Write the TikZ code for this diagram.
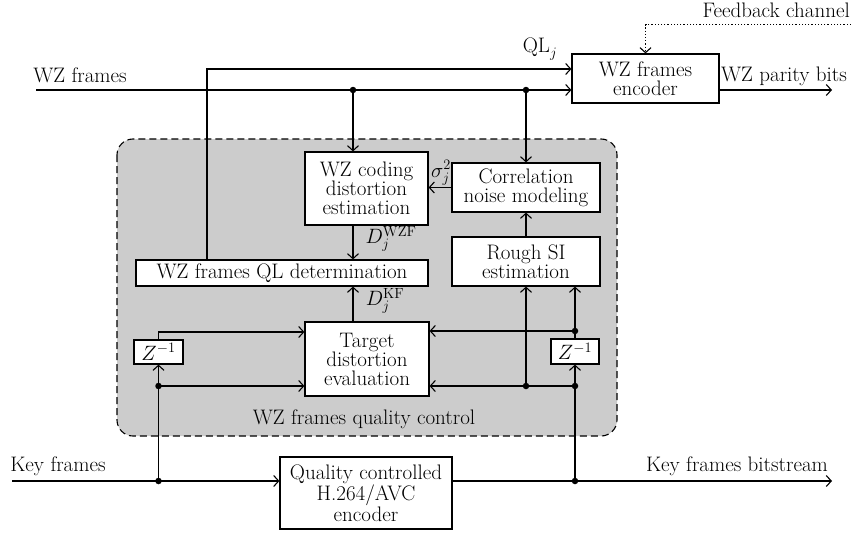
\documentclass[tikz,border=0pt]{standalone}
\usepackage{fontspec}
\usetikzlibrary{arrows.meta}
\begin{document}
\begin{tikzpicture}[x=1pt,y=-1pt,
  every node/.style={font=\fontsize{21}{19}\selectfont, inner sep=0pt},
  box/.style={draw, fill=white, line width=1.2pt, align=center},
  conn/.style={line width=1.2pt, -{Straight Barb[length=5pt,width=11pt,line width=1.1pt]}},
  dot/.style={circle, fill=black, minimum size=6.5pt, inner sep=0pt}]
\useasboundingbox (0,0) rectangle (851,535);
% region
\draw[fill=black!20, dash pattern=on 7pt off 4pt, line width=1.1pt, rounded corners=16pt] (117,139) rectangle (617,436);
\node (qclabel) at (364,419) {WZ frames quality control};
% boxes
\node[box, minimum width=147pt, minimum height=49pt] (enc) at (645.5,78.5) {WZ frames\\encoder};
\node[box, minimum width=123pt, minimum height=73pt] (wzc) at (366.5,188.5) {WZ coding\\distortion\\estimation};
\node[box, minimum width=148pt, minimum height=49pt] (cnm) at (526,187.5) {Correlation\\noise modeling};
\node[box, minimum width=148pt, minimum height=49pt] (rsi) at (526,261.5) {Rough SI\\estimation};
\node[box, minimum width=292pt, minimum height=26pt] (qld) at (282,273) {WZ frames QL determination};
\node[box, minimum width=124pt, minimum height=74pt] (tde) at (367,359) {Target\\distortion\\evaluation};
\node[box, minimum width=49pt, minimum height=24pt] (z1) at (158.5,352) {$Z^{-1}$};
\node[box, minimum width=48pt, minimum height=25pt] (z2) at (575,351.5) {$Z^{-1}$};
\node[box, minimum width=172pt, minimum height=72pt] (h264) at (366,493) {Quality controlled\\H.264/AVC\\encoder};
% text labels
\node (wzft) at (80,75) {WZ frames};
\node (wzpb) at (784,76) {WZ parity bits};
\node (kft) at (58,466) {Key frames};
\node (kfbt) at (737,466) {Key frames bitstream};
\node[anchor=east] (fbt) at (850,10) {Feedback channel};
\node (qlj) at (540,49) {$\mathrm{QL}_j$};
\node (sig) at (441,173) {$\sigma_j^2$};
\node (dwzf) at (391,239) {$D_j^{\mathrm{WZF}}$};
\node (dkf) at (385,301) {$D_j^{\mathrm{KF}}$};
% coordinates
\coordinate (wzin) at (36,90);
\coordinate (wzout) at (832,90);
\coordinate (qlx) at (207,69);
\coordinate (j1) at (353,90);
\coordinate (j2) at (526,90);
\coordinate (fbr) at (851,25);
\coordinate (kin) at (12,481);
\coordinate (kout) at (832,481);
\coordinate (j3) at (158.5,481);
\coordinate (j4) at (575,481);
\coordinate (j5) at (158.5,386);
\coordinate (j6) at (575,386);
\coordinate (j7) at (526,386);
\coordinate (j8) at (575,331);
\coordinate (r1) at (0,332);
% top connectors
\draw[conn] (wzin) -- (enc.west |- wzin);
\draw[conn] (qld.north -| qlx) -- (qlx) -- (enc.west |- qlx);
\draw[conn] (j1) -- (wzc.north -| j1);
\draw[conn] (j2) -- (cnm.north);
\draw[conn, dotted, line width=1pt] (fbr) -| (enc.north);
\draw[conn] (enc.east |- wzout) -- (wzout);
\draw[conn] (cnm.west) -- (wzc.east |- cnm.west);
\draw[conn] (rsi.north) -- (cnm.south);
\draw[conn] (wzc.south -| j1) -- (qld.north -| j1);
\draw[conn] (tde.north -| j1) -- (qld.south -| j1);
% key frames
\draw[conn] (kin) -- (h264.west |- kin);
\draw[conn] (h264.east |- kout) -- (kout);
\draw[conn] (j3) -- (z1.south);
\draw[conn] (j5) -- (tde.west |- j5);
\draw[conn] (z1.north) |- (tde.west |- r1);
\draw[conn] (j4) -- (z2.south);
\draw[conn] (j6) -- (tde.east |- j6);
\draw[conn] (j7) -- (rsi.south -| j7);
\draw[conn] (z2.north) -- (rsi.south -| z2);
\draw[conn] (j8) -- (tde.east |- j8);
% dots
\foreach \p in {j1,j2,j3,j4,j5,j6,j7,j8} \node[dot] at (\p) {};
\end{tikzpicture}
\end{document}
